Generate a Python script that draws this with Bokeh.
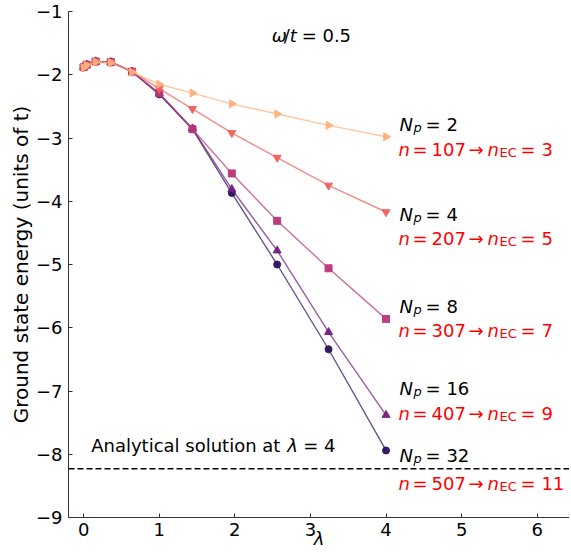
import math
from bokeh.plotting import figure
from bokeh.models import Label, Span, FixedTicker, Range1d
from bokeh.embed import file_html
from bokeh.resources import INLINE

# ---- data ----
lam = [0.0, 0.04, 0.16, 0.36, 0.64, 1.0, 1.44, 1.96, 2.56, 3.24, 4.0]
E_np2 = [-1.89, -1.85, -1.80, -1.81, -1.96, -2.15, -2.29, -2.46, -2.62, -2.80, -2.98]
E_np4 = [-1.88, -1.84, -1.79, -1.80, -1.95, -2.22, -2.54, -2.92, -3.31, -3.75, -4.17]
E_np8 = [-1.88, -1.84, -1.79, -1.80, -1.95, -2.29, -2.86, -3.56, -4.31, -5.06, -5.86]
E_np16 = [-1.88, -1.84, -1.79, -1.80, -1.95, -2.30, -2.85, -3.81, -4.78, -6.07, -7.38]
E_np32 = [-1.88, -1.84, -1.79, -1.80, -1.95, -2.31, -2.86, -3.87, -5.00, -6.34, -7.94]
Np_labels = ["2", "4", "8", "16", "32"]
n_labels = ["107", "207", "307", "407", "507"]
nEC_labels = ["3", "5", "7", "9", "11"]
label_y_black = [-2.905, -4.317, -5.778, -7.079, -8.127]
label_y_red = [-3.286, -4.698, -6.159, -7.46, -8.571]
analytical_E = -8.23
x_ticks = [0, 1, 2, 3, 4, 5, 6]
y_ticks = [-9, -8, -7, -6, -5, -4, -3, -2, -1]

colors = ["#feb078", "#f1605d", "#b73779", "#721f81", "#2c115f"]
markers = ["triangle", "inverted_triangle", "square", "triangle", "circle"]
angles = [-math.pi / 2, 0, 0, 0, 0]
sizes = [8, 8, 7, 8, 7]

FONT = "DejaVu Sans"

p = figure(width=569, height=551,
           x_range=Range1d(-0.2, 6.427), y_range=Range1d(-9, -1),
           output_backend="svg", toolbar_location=None,
           min_border_left=68, min_border_right=0,
           min_border_top=11, min_border_bottom=29)
p.outline_line_color = None
p.grid.visible = False
p.background_fill_color = "white"
p.border_fill_color = "white"

for ax, ticks in ((p.xaxis, x_ticks), (p.yaxis, y_ticks)):
    ax.ticker = FixedTicker(ticks=ticks)
    ax.major_label_overrides = {t: str(t).replace("-", "\u2212") for t in ticks}
    ax.minor_tick_line_color = None
    ax.major_tick_in = 4
    ax.major_tick_out = 0
    ax.major_tick_line_color = "#333333"
    ax.axis_line_color = "#333333"
    ax.axis_line_width = 1
    ax.major_label_text_font = FONT
    ax.major_label_text_font_size = "18px"
    ax.major_label_text_color = "black"
    ax.major_label_standoff = 6
    ax.axis_label_text_font = FONT
    ax.axis_label_text_color = "black"

p.xaxis.major_label_standoff = 5
p.xaxis.axis_label = "\u03bb"
p.xaxis.axis_label_text_font_style = "italic"
p.xaxis.axis_label_text_font_size = "18px"
p.xaxis.axis_label_standoff = -11

p.yaxis.axis_label = "Ground state energy (units of t)"
p.yaxis.axis_label_text_font_style = "normal"
p.yaxis.axis_label_text_font_size = "20px"
p.yaxis.axis_label_standoff = 0

all_E = [E_np2, E_np4, E_np8, E_np16, E_np32]
order = [4, 3, 2, 1, 0]
for i in order:
    E, c, m, a, s = all_E[i], colors[i], markers[i], angles[i], sizes[i]
    p.line(lam, E, line_color=c, line_alpha=0.72, line_width=1.4)
    p.scatter(lam, E, marker=m, angle=a, size=s, fill_color=c, line_color=c,
              fill_alpha=0.95, line_alpha=0.95)

p.add_layout(Span(location=analytical_E, dimension="width", line_color="black",
                  line_dash="6 3", line_width=1.5))

LIFT = 7  # px, brings the text baselines in line with the reference


def txt(x, y, text, dx=0, dy=0, size=18, style="normal", color="black",
        align="left", baseline="alphabetic", angle=0):
    p.add_layout(Label(x=x, y=y, x_offset=dx, y_offset=dy + LIFT, text=text,
                       text_font=FONT, text_font_size=f"{size}px",
                       text_font_style=style, text_color=color,
                       text_align=align, text_baseline=baseline, angle=angle))


X0 = 4.193
R = -1
for npl, nl, ecl, yb, yr in zip(Np_labels, n_labels, nEC_labels, label_y_black, label_y_red):
    txt(X0, yb, "N", -1, style="italic")
    txt(X0, yb, "p", 13, -3, size=13, style="italic")
    txt(X0, yb, "= " + npl, 25)
    txt(X0, yr, "n", R - 1, style="italic", color="red")
    txt(X0, yr, "=", R + 13, color="red")
    txt(X0, yr, nl, R + 32, color="red")
    txt(X0, yr, "\u2192", R + 69, color="red")
    txt(X0, yr, "n", R + 88, style="italic", color="red")
    txt(X0, yr, "EC", R + 100, -3, size=13, color="red")
    txt(X0, yr, "= " + ecl, R + 121, color="red")

# omega/t label
txt(2.487, -1.487, "\u03c9", 0, style="italic")
txt(2.487, -1.487, "/", 12)
txt(2.487, -1.487, "t", 18, style="italic")
txt(2.487, -1.487, "= 0.5", 30)

# analytical solution text
txt(0.1, -7.97, "Analytical solution at ", 0)
txt(0.1, -7.97, "\u03bb", 196, style="italic")
txt(0.1, -7.97, "= 4", 212)

open("out.html", "w").write(file_html(p, INLINE))
